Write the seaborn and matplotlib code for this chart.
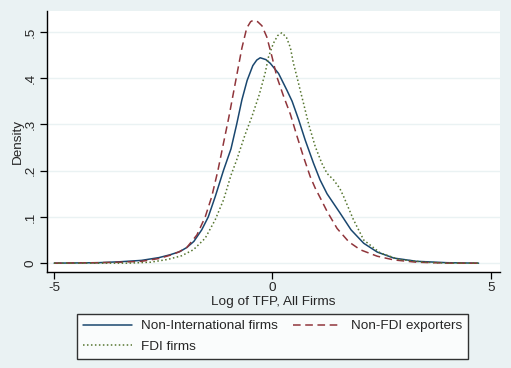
import matplotlib
matplotlib.use("Agg")
import matplotlib.pyplot as plt
import pandas as pd
import seaborn as sns
from matplotlib.lines import Line2D

# values (log TFP vs kernel density)
nonint_x = [-5.0, -4.0, -3.5, -3.0, -2.6, -2.35, -2.12, -1.96, -1.80, -1.62, -1.47, -1.31, -1.12,
            -0.95, -0.82, -0.70, -0.58, -0.45, -0.36, -0.28, -0.15, -0.05, 0.14, 0.33, 0.45, 0.60,
            0.75, 0.94, 1.09, 1.25, 1.55, 1.80, 2.09, 2.40, 2.78, 3.3, 4.0, 4.72]
nonint_y = [0.0, 0.001, 0.003, 0.006, 0.012, 0.018, 0.025, 0.034, 0.047, 0.072, 0.100, 0.144, 0.201,
            0.247, 0.300, 0.353, 0.395, 0.427, 0.439, 0.444, 0.440, 0.432, 0.410, 0.374, 0.350, 0.310,
            0.266, 0.216, 0.180, 0.150, 0.108, 0.072, 0.043, 0.024, 0.011, 0.004, 0.001, 0.0]

nonfdi_x = [-5.0, -4.0, -3.5, -3.0, -2.6, -2.35, -2.15, -1.96, -1.73, -1.54, -1.39, -1.25, -1.12,
            -1.00, -0.88, -0.78, -0.70, -0.59, -0.50, -0.44, -0.34, -0.24, -0.13, -0.01, 0.10,
            0.25, 0.41, 0.56, 0.71, 0.865, 0.98, 1.09, 1.25, 1.48, 1.75, 2.01, 2.40, 2.78, 3.3,
            4.0, 4.72]
nonfdi_y = [0.0, 0.001, 0.002, 0.004, 0.010, 0.017, 0.024, 0.034, 0.061, 0.100, 0.144, 0.200, 0.260,
            0.315, 0.375, 0.425, 0.465, 0.508, 0.522, 0.525, 0.522, 0.513, 0.489, 0.446, 0.403,
            0.362, 0.322, 0.275, 0.230, 0.187, 0.162, 0.142, 0.112, 0.075, 0.046, 0.029, 0.015,
            0.007, 0.002, 0.0, 0.0]

fdi_x = [-5.0, -4.0, -3.3, -2.8, -2.4, -2.08, -1.81, -1.54, -1.31, -1.12, -0.95, -0.82, -0.63,
         -0.47, -0.30, -0.17, -0.09, 0.02, 0.12, 0.215, 0.32, 0.41, 0.48, 0.56, 0.635, 0.71,
         0.83, 0.98, 1.13, 1.25, 1.40, 1.54, 1.63, 1.85, 2.09, 2.47, 2.9, 3.5, 4.0, 4.72]
fdi_y = [0.0, 0.0, 0.0, 0.002, 0.008, 0.016, 0.029, 0.054, 0.094, 0.137, 0.190, 0.223, 0.277,
         0.317, 0.365, 0.410, 0.446, 0.475, 0.492, 0.498, 0.488, 0.466, 0.432, 0.403, 0.374, 0.346,
         0.300, 0.252, 0.216, 0.194, 0.180, 0.162, 0.144, 0.095, 0.050, 0.022, 0.008, 0.002, 0.0, 0.0]

labels = ["Non-International firms", "Non-FDI exporters", "FDI firms"]
colors = {"Non-International firms": "#1a476f", "Non-FDI exporters": "#90353b", "FDI firms": "#55752f"}
dash_styles = {"Non-International firms": "", "Non-FDI exporters": (5, 3), "FDI firms": (1, 1.6)}

df = pd.concat([
    pd.DataFrame({"x": nonint_x, "y": nonint_y, "group": labels[0]}),
    pd.DataFrame({"x": nonfdi_x, "y": nonfdi_y, "group": labels[1]}),
    pd.DataFrame({"x": fdi_x, "y": fdi_y, "group": labels[2]}),
])

sns.set_theme(style="white")
plt.rcParams["font.family"] = ["Liberation Sans", "DejaVu Sans"]

bg = "#eaf2f3"
fs = 9.7
fig = plt.figure(figsize=(5.11, 3.68), dpi=100, facecolor=bg)
ax = fig.add_axes([0.0914, 0.261, 0.887, 0.709])
ax.set_facecolor("white")

sns.lineplot(data=df, x="x", y="y", hue="group", style="group", palette=colors,
             dashes=dash_styles, linewidth=1.1, legend=False, ax=ax)

ax.set_xlim(-5.17, 5.21)
ax.set_ylim(-0.019, 0.545)
ax.set_xticks([-5, 0, 5])
ax.set_xticklabels(["-5", "0", "5"])
ax.set_yticks([0, 0.1, 0.2, 0.3, 0.4, 0.5])
ax.set_yticklabels(["0", ".1", ".2", ".3", ".4", ".5"], rotation=90, va="center")
for yv in [0, 0.1, 0.2, 0.3, 0.4, 0.5]:
    ax.axhline(yv, color=bg, lw=1.0, zorder=0)

for side in ["top", "right"]:
    ax.spines[side].set_visible(False)
for side in ["left", "bottom"]:
    ax.spines[side].set_color("black")
    ax.spines[side].set_linewidth(1.0)
ax.tick_params(axis="both", which="major", direction="out", length=5, width=0.9,
               color="black", labelsize=fs, pad=2, left=True, bottom=True)
ax.set_xlabel("Log of TFP, All Firms", fontsize=fs, labelpad=2)
ax.set_ylabel("Density", fontsize=fs, labelpad=1)

handles = [Line2D([], [], color=colors[labels[0]], lw=1.1),
           Line2D([], [], color=colors[labels[2]], lw=1.1, dashes=dash_styles[labels[2]]),
           Line2D([], [], color=colors[labels[1]], lw=1.1, dashes=dash_styles[labels[1]])]
leg = fig.legend(handles, [labels[0], labels[2], labels[1]], ncol=2, mode="expand",
                 loc="upper left", bbox_to_anchor=(0.151, 0.03, 0.765, 0.117),
                 fontsize=fs, frameon=True, fancybox=False, edgecolor="black",
                 handlelength=3.6, handletextpad=0.7, columnspacing=2.5,
                 borderpad=0.45, labelspacing=0.6, borderaxespad=0)
leg.get_frame().set_linewidth(1.0)
leg.get_frame().set_facecolor("white")

fig.savefig("out.png", dpi=100, facecolor=bg)
